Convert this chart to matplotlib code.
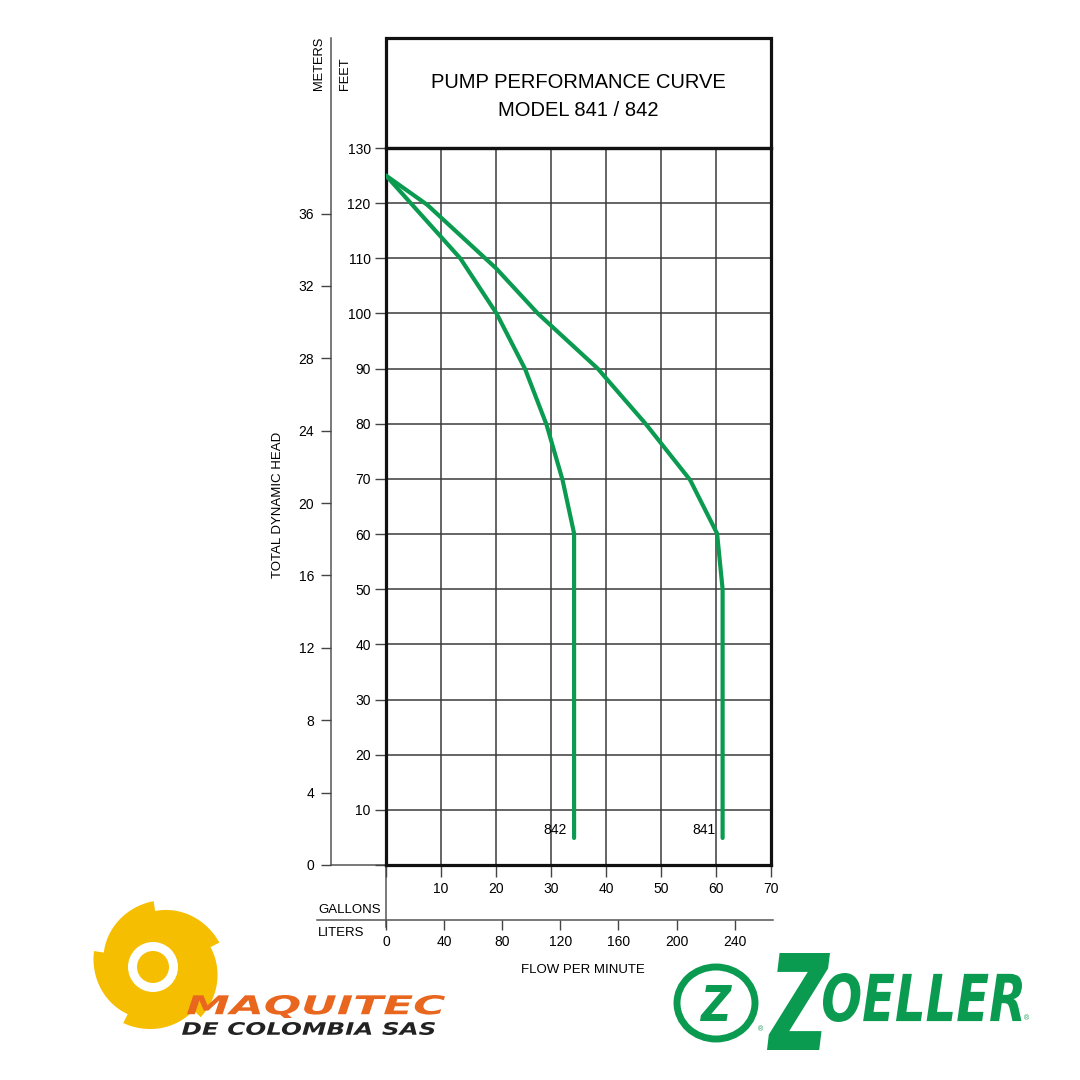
import matplotlib
matplotlib.use("Agg")
import matplotlib.pyplot as plt
import numpy as np
from matplotlib.patches import Rectangle, Circle, Polygon, PathPatch
from matplotlib.textpath import TextPath
from matplotlib.font_manager import FontProperties
from matplotlib.transforms import Affine2D

plt.rcParams["font.family"] = ["Liberation Sans Narrow", "Liberation Sans", "DejaVu Sans"]

# performance points: flow (US gal/min) vs total dynamic head (ft)
gpm_841 = [0, 7.5, 20, 27.6, 38.5, 47.2, 55.3, 60.2, 61.2, 61.2]
ft_841 = [125, 119.7, 108.2, 100, 90, 80, 69.8, 60.1, 50, 4.9]
gpm_842 = [0, 13.5, 20.1, 25.3, 29.2, 32.1, 34.2, 34.2]
ft_842 = [125, 110, 100, 89.9, 79.8, 69.8, 60.1, 4.9]

feet_ticks = list(range(0, 131, 10))
feet_labels = [""] + [str(t) for t in feet_ticks[1:]]
meter_ticks = list(range(0, 37, 4))
gallon_ticks = list(range(0, 71, 10))
gallon_labels = [""] + [str(t) for t in gallon_ticks[1:]]
liter_ticks = list(range(0, 241, 40))

GREEN = "#0b9b50"
GRID = "#3a3a3a"
W = 1080


def fx(px):
    return px / W


def fy(px):
    return 1 - px / W


fig = plt.figure(figsize=(10.8, 10.8), dpi=100)

# overlay in pixel coordinates for frame pieces and logos
ov = fig.add_axes([0, 0, 1, 1], zorder=0)
ov.set_xlim(0, W)
ov.set_ylim(W, 0)
ov.axis("off")


def fit_text(s, x0, x1, y_top, y_bot, color, prop):
    # logo lettering stretched into a box (pixel coords)
    tp = TextPath((0, 0), s, size=10, prop=prop)
    bb = tp.get_extents()
    sx = (x1 - x0) / bb.width
    sy = (y_bot - y_top) / bb.height
    tr = Affine2D().translate(-bb.x0, -bb.y0).scale(sx, -sy).translate(x0, y_bot)
    ov.add_patch(PathPatch(tr.transform_path(tp), fc=color, ec="none"))


ax = fig.add_axes([fx(386), fy(865), 385 / W, 717 / W], zorder=1)
ax.set_facecolor("none")
ax.set_xlim(0, 70)
ax.set_ylim(0, 130)
ax.set_xticks(gallon_ticks)
ax.set_xticklabels(gallon_labels)
ax.set_yticks(feet_ticks)
ax.set_yticklabels(feet_labels)
ax.grid(True, color=GRID, lw=1.1)
ax.set_axisbelow(True)
for s in ax.spines.values():
    s.set_linewidth(2.3)
    s.set_color("#111111")
ax.tick_params(axis="y", direction="out", length=8, width=1.0, color="#444444",
               pad=3, labelsize=10)
ax.tick_params(axis="x", direction="out", length=8.5, width=1.0, color="#444444",
               pad=3.5, labelsize=10)

ax.plot(gpm_841, ft_841, color=GREEN, lw=3.0, solid_capstyle="round",
        solid_joinstyle="round", zorder=3)
ax.plot(gpm_842, ft_842, color=GREEN, lw=3.0, solid_capstyle="round",
        solid_joinstyle="round", zorder=3)
ax.text(32.8, 6.3, "842", ha="right", va="center", fontsize=10)
ax.text(60.0, 6.3, "841", ha="right", va="center", fontsize=10)

# meters scale
m_ax = ax.secondary_yaxis(-55 / 385, functions=(lambda f: f / 3.2808, lambda m: m * 3.2808))
m_ax.set_yticks(meter_ticks)
m_ax.spines["left"].set_visible(False)
m_ax.tick_params(direction="out", length=7, width=1.0, color="#444444", pad=5, labelsize=10)

# liters scale
l_ax = ax.secondary_xaxis(-55 / 717, functions=(lambda g: g * 3.785, lambda l: l / 3.785))
l_ax.set_xticks(liter_ticks)
l_ax.spines["bottom"].set_visible(False)
l_ax.tick_params(direction="out", length=7, width=1.0, color="#444444", pad=4, labelsize=10)

# frame pieces
ov.plot([331, 331], [38, 865], color="#555555", lw=1.1)
ov.plot([331, 386], [865, 865], color="#555555", lw=1.1)
ov.plot([386, 386], [865, 927], color="#555555", lw=1.1)
ov.plot([317, 773], [920, 920], color="#555555", lw=1.1)
ov.add_patch(Rectangle((386, 38), 385, 110, fill=False, lw=2.3, ec="#111111"))

ov.text(578, 82, "PUMP PERFORMANCE CURVE", ha="center", va="center", fontsize=14.5)
ov.text(578, 110, "MODEL 841 / 842", ha="center", va="center", fontsize=14.5)
ov.text(319, 90, "METERS", rotation=90, ha="center", va="bottom", fontsize=9.3)
ov.text(345, 90, "FEET", rotation=90, ha="center", va="bottom", fontsize=9.3)
ov.text(278, 505, "TOTAL DYNAMIC HEAD", rotation=90, ha="center", va="center", fontsize=9.5)
ov.text(318, 910, "GALLONS", ha="left", va="center", fontsize=9.5)
ov.text(318, 933, "LITERS", ha="left", va="center", fontsize=9.5)
ov.text(583, 970, "FLOW PER MINUTE", ha="center", va="center", fontsize=9.5)

# Maquitec logo (approximation)
th = np.linspace(0, 2 * np.pi, 400)
r = 56 + 10 * np.mod(th * 5 / (2 * np.pi) + 0.3, 1.0)
ov.add_patch(Polygon(np.column_stack([158 + r * np.cos(th), 967 + r * np.sin(th)]),
                     closed=True, fc="#f6be00", ec="none"))
ov.add_patch(Circle((153, 967), 25, fc="white", ec="none"))
ov.add_patch(Circle((153, 967), 16, fc="#f6be00", ec="none"))
heavy = FontProperties(family="DejaVu Sans", weight="bold", style="oblique")
ov.add_patch(Rectangle((183, 990), 265, 50, fc="white", ec="none", alpha=0.0))
fit_text("MAQUITEC", 187, 445, 995, 1018, "#e8661e", heavy)
fit_text("DE COLOMBIA SAS", 182, 435, 1022, 1035, "#222222", heavy)

# Zoeller logo (approximation)
ov.add_patch(matplotlib.patches.Ellipse((716, 1003), 78, 72, fill=False, ec=GREEN, lw=5))
fit_text("Z", 700, 732, 985, 1021, GREEN, heavy)
fit_text("Z", 767, 830, 953, 1050, GREEN, heavy)
fit_text("OELLER", 823, 1022, 973, 1022, GREEN, heavy)
ov.text(1026, 1019, "®", ha="center", va="center", fontsize=5, color=GREEN)
ov.text(760, 1030, "®", ha="center", va="center", fontsize=5, color=GREEN)

fig.savefig("out.png", dpi=100, facecolor="white")
